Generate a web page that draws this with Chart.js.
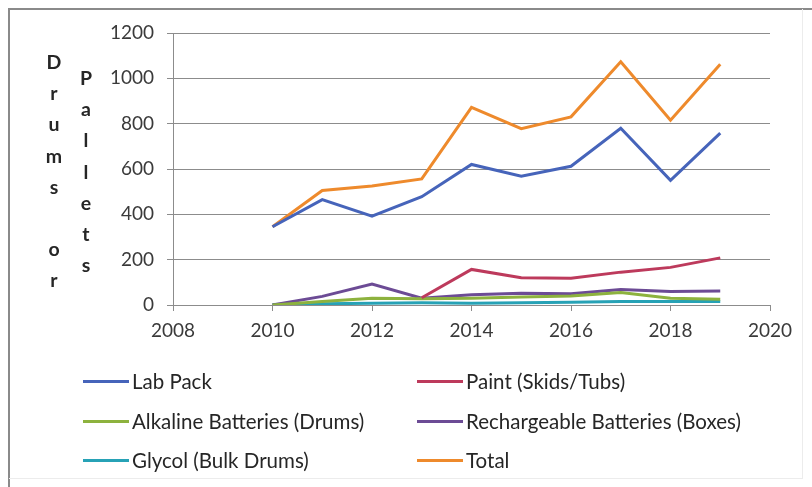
<!DOCTYPE html>
<html>
<head>
<meta charset="utf-8">
<script src="https://cdn.jsdelivr.net/npm/chart.js@4/dist/chart.umd.min.js"></script>
<style>
  html, body { margin: 0; padding: 0; background: #ffffff; }
  #wrap { position: relative; width: 812px; height: 487px; overflow: hidden; background: #fff; font-family: Lato, "Open Sans", sans-serif; }
  #cbox { position: absolute; left: 0; top: 0; width: 812px; height: 487px; }
  .frame { position: absolute; }
  .ttl { position: absolute; font-weight: bold; font-size: 19.5px; color: #262626; width: 20px; text-align: center; line-height: 20px; }
  #legend { position: absolute; left: 0; top: 0; width: 812px; height: 487px; pointer-events: none; }
  .li { position: absolute; display: flex; align-items: center; font-size: 20.5px; color: #262626; white-space: nowrap; }
  .li .sw { width: 46px; height: 3px; margin-right: 3px; }
</style>
</head>
<body>
<div id="wrap">
  <div class="frame" style="left:8px;top:8px;width:804px;height:1.5px;background:#8a8a8a;"></div>
  <div class="frame" style="left:8px;top:8px;width:1.5px;height:479px;background:#8a8a8a;"></div>
  <div class="frame" style="left:802px;top:9px;width:1px;height:469px;background:#ececec;"></div>
  <div class="frame" style="left:9px;top:478px;width:794px;height:1px;background:#ececec;"></div>
  <div id="cbox"><canvas id="c"></canvas></div>
  <div id="ytitle"></div>
  <div id="legend"></div>
</div>
<script>
// ---- data ----
const years = [2010, 2011, 2012, 2013, 2014, 2015, 2016, 2017, 2018, 2019];
const seriesNames = ["Lab Pack", "Paint (Skids/Tubs)", "Alkaline Batteries (Drums)", "Rechargeable Batteries (Boxes)", "Glycol (Bulk Drums)", "Total"];
const labPack   = [345, 465, 392, 478, 620, 568, 612, 780, 550, 758];
const paint     = [null, null, null, 32, 157, 120, 118, 145, 166, 208];
const alkaline  = [0, 15, 30, 28, 30, 35, 40, 55, 30, 25];
const recharge  = [0, 38, 92, 30, 45, 52, 50, 68, 60, 62];
const glycol    = [2, 5, 8, 10, 8, 10, 12, 15, 15, 15];
const total     = [345, 505, 525, 556, 872, 778, 830, 1073, 815, 1062];
const xTicks = [2008, 2010, 2012, 2014, 2016, 2018, 2020];
const yTicks = [0, 200, 400, 600, 800, 1000, 1200];
const yTitleCol1 = "Drums or";
const yTitleCol2 = "Pallets";

const colors = ["#4664BA", "#BD3A5C", "#8DB23E", "#6C4B95", "#27A2B6", "#EE8A2C"];
const values = [labPack, paint, alkaline, recharge, glycol, total];

const datasets = seriesNames.map((name, i) => ({
  label: name,
  data: years.map((y, k) => ({ x: y, y: values[i][k] })),
  borderColor: colors[i],
  backgroundColor: colors[i],
  borderWidth: 3,
  pointRadius: 0,
  tension: 0,
  fill: false,
  spanGaps: false
}));

const tickFont = { family: "Lato, 'Open Sans', sans-serif", size: 19 };

const chart = new Chart(document.getElementById("c"), {
  type: "line",
  data: { datasets },
  options: {
    responsive: true,
    maintainAspectRatio: false,
    animation: false,
    layout: { padding: { left: 0, top: 33, right: 42, bottom: 0 } },
    plugins: { legend: { display: false }, tooltip: { enabled: false } },
    scales: {
      x: {
        type: "linear",
        min: xTicks[0], max: xTicks[xTicks.length - 1],
        afterBuildTicks: s => { s.ticks = xTicks.map(v => ({ value: v })); },
        afterFit: s => { s.height = 182; },
        ticks: { font: tickFont, color: "#3a3a3a", padding: 8, maxRotation: 0, callback: v => String(v) },
        grid: { drawOnChartArea: false, drawTicks: true, tickLength: 6, color: "#8c8c8c", lineWidth: 1 },
        border: { display: true, color: "#8c8c8c", width: 1 }
      },
      y: {
        type: "linear",
        min: yTicks[0], max: yTicks[yTicks.length - 1],
        afterBuildTicks: s => { s.ticks = yTicks.map(v => ({ value: v })); },
        afterFit: s => { s.width = 173; },
        ticks: { font: tickFont, color: "#3a3a3a", padding: 13, callback: v => String(v) },
        grid: { drawTicks: true, tickLength: 6, color: "#8c8c8c", lineWidth: 1 },
        border: { display: true, color: "#8c8c8c", width: 1 }
      }
    }
  }
});

// ---- vertical stacked y-axis title ----
(function () {
  const host = document.getElementById("ytitle");
  const cols = [{ text: yTitleCol1, cx: 54, top: 62 }, { text: yTitleCol2, cx: 86, top: 78 }];
  cols.forEach(c => {
    [...c.text].forEach((ch, i) => {
      if (ch === " ") return;
      const d = document.createElement("div");
      d.className = "ttl";
      d.textContent = ch;
      d.style.left = (c.cx - 10) + "px";
      d.style.top = (c.top + i * 31.2 - 10) + "px";
      host.appendChild(d);
    });
  });
})();

// ---- HTML legend built from datasets ----
(function () {
  const host = document.getElementById("legend");
  const colX = [83, 417];
  const rowY = [381, 421, 460];
  chart.data.datasets.forEach((ds, i) => {
    const item = document.createElement("div");
    item.className = "li";
    item.style.left = colX[i % 2] + "px";
    item.style.top = (rowY[Math.floor(i / 2)] - 12) + "px";
    item.style.height = "24px";
    const sw = document.createElement("span");
    sw.className = "sw";
    sw.style.background = ds.borderColor;
    const tx = document.createElement("span");
    tx.textContent = ds.label;
    item.appendChild(sw);
    item.appendChild(tx);
    host.appendChild(item);
  });
})();
</script>
</body>
</html>
